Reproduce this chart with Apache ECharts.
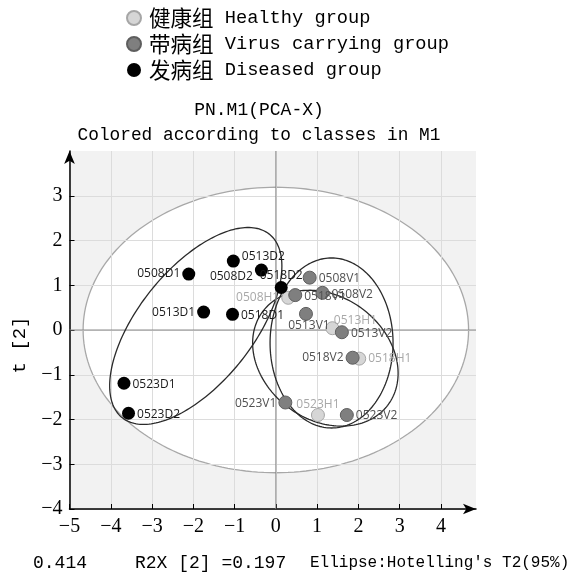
<!DOCTYPE html>
<html><head><meta charset="utf-8">
<script src="https://cdn.jsdelivr.net/npm/echarts@6/dist/echarts.min.js"></script>
<style>html,body{margin:0;padding:0;background:#fff}#c{width:573px;height:578px}</style>
</head><body><div id="c"></div>
<script>
const healthyNames = ['0508H1','0513H1','0518H1','0523H1'];
const healthyX = [0.30, 1.37, 2.02, 1.02];
const healthyY = [0.72, 0.04, -0.64, -1.90];
const virusNames = ['0508V1','0518V1','0508V2','0513V1','0513V2','0518V2','0523V1','0523V2'];
const virusX = [0.82, 0.47, 1.13, 0.73, 1.60, 1.86, 0.23, 1.72];
const virusY = [1.17, 0.78, 0.83, 0.36, -0.05, -0.62, -1.62, -1.90];
const diseasedNames = ['0508D1','0513D2','0508D2','0518D2','0513D1','0518D1','0523D1','0523D2'];
const diseasedX = [-2.11, -1.03, -0.35, 0.13, -1.75, -1.05, -3.68, -3.57];
const diseasedY = [1.25, 1.54, 1.34, 0.95, 0.40, 0.35, -1.19, -1.86];
const xTicks = [-5,-4,-3,-2,-1,0,1,2,3,4];
const yTicks = [-4,-3,-2,-1,0,1,2,3];
// ellipse outlines: [cx, cy, a, b, angleDeg]
const hotellingEllipse = [0, 0, 4.67, 3.19, 0];
const diseasedEllipse = [-1.94, 0.09, 2.72, 1.34, 47.5];
const virusEllipse = [1.35, -0.29, 1.49, 1.90, 0];
const healthyEllipse = [1.20, -0.63, 1.85, 1.41, -28];

const groupCJK = ['健康组','带病组','发病组'];
const groupEN = ['Healthy group','Virus carrying group','Diseased group'];
const seriesNames = groupCJK.map((c,i)=>c+' '+groupEN[i]);

const labelPlace = {
  '0508D1':['left',0,0], '0513D2':['right',0,-5], '0508D2':['left',0,7], '0518D2':['top',0,3],
  '0513D1':['left',0,0], '0518D1':['right',0,1], '0523D1':['right',0,1], '0523D2':['right',0,1],
  '0508V1':['right',0,1], '0518V1':['right',0,1], '0508V2':['right',0,2], '0513V1':['bottom',3,-3],
  '0513V2':['right',0,1], '0518V2':['left',0,0], '0523V1':['left',0,1], '0523V2':['right',0,1],
  '0508H1':['left',0,0], '0513H1':['top',23,7], '0518H1':['right',0,0], '0523H1':['top',0,5]
};

function ellipsePts(e){
  const pts=[]; const phi=e[4]*Math.PI/180;
  for(let i=0;i<=200;i++){
    const t=i/200*2*Math.PI;
    pts.push([e[0]+e[2]*Math.cos(t)*Math.cos(phi)-e[3]*Math.sin(t)*Math.sin(phi),
              e[1]+e[2]*Math.cos(t)*Math.sin(phi)+e[3]*Math.sin(t)*Math.cos(phi)]);
  }
  return pts;
}
function mk(names,xs,ys){
  return names.map((n,i)=>{
    const p=labelPlace[n]||['right',0,0];
    return {name:n, value:[xs[i],ys[i]], label:{position:p[0], offset:[p[1],p[2]]}};
  });
}
const minusFmt = v => (v<0 ? '\u2212'+Math.abs(v) : String(v));
const XMIN=-5, XMAX=4.85, YMIN=-4, YMAX=4;
const MONO = "'Liberation Mono','Noto Sans CJK SC',monospace";

const chart = echarts.init(document.getElementById('c'), null, {renderer:'canvas'});
const labelFont = {fontFamily:"'Open Sans','Noto Sans',sans-serif", fontSize:12, distance:2, show:true, formatter:'{b}'};
chart.setOption({
  animation:false,
  backgroundColor:'#fff',
  title:[
    {text:'PN.M1(PCA-X)', left:254, top:96, textAlign:'center',
     textStyle:{fontSize:18, fontWeight:'normal', color:'#000', fontFamily:MONO}},
    {text:'Colored according to classes in M1', left:254, top:121, textAlign:'center',
     textStyle:{fontSize:17.8, fontWeight:'normal', color:'#000', fontFamily:MONO}}
  ],
  legend:{
    orient:'vertical', left:121, top:2, itemWidth:20, itemHeight:14, itemGap:4,
    icon:'circle', data:seriesNames,
    formatter:name=>{const i=seriesNames.indexOf(name); return '{c|'+groupCJK[i]+'} {e|'+groupEN[i]+'}';},
    textStyle:{fontSize:18.7, lineHeight:22, color:'#000', fontFamily:MONO,
      rich:{c:{fontSize:21.5, lineHeight:22, fontFamily:"'Noto Sans CJK SC',sans-serif", color:'#000'},
            e:{fontSize:18.7, lineHeight:22, fontFamily:MONO, color:'#000'}}}
  },
  grid:{left:69.5, top:151, right:573-476, bottom:69, show:true, backgroundColor:'#f2f2f2', borderWidth:0, containLabel:false},
  xAxis:{
    type:'value', min:XMIN, max:XMAX, interval:1, z:2,
    axisLine:{show:true, onZero:false, symbol:['none','arrow'], symbolSize:[8,13], lineStyle:{color:'#000', width:1.5}},
    axisTick:{show:true, inside:true, length:5, lineStyle:{color:'#000'}, customValues:xTicks},
    axisLabel:{customValues:xTicks, formatter:minusFmt, margin:8, color:'#000', fontSize:20, fontFamily:"'Liberation Serif','Times New Roman',serif"},
    splitLine:{show:true, lineStyle:{color:'#dcdcdc', width:1}}
  },
  yAxis:{
    type:'value', min:YMIN, max:YMAX, interval:1, z:2,
    axisLine:{show:true, onZero:false, symbol:['none','arrow'], symbolSize:[8,13], lineStyle:{color:'#000', width:1.5}},
    axisTick:{show:true, inside:true, length:5, lineStyle:{color:'#000'}, customValues:yTicks},
    axisLabel:{customValues:yTicks, formatter:minusFmt, margin:7, color:'#000', fontSize:20, fontFamily:"'Liberation Serif','Times New Roman',serif"},
    splitLine:{show:true, lineStyle:{color:'#dcdcdc', width:1}}
  },
  graphic:[
    {type:'text', x:20, y:345, rotation:Math.PI/2, z:10,
     style:{text:'t [2]', fontSize:19, fontFamily:MONO, fill:'#000', align:'center', verticalAlign:'middle'}},
    {type:'text', x:33, y:563, z:10,
     style:{text:'0.414', fontSize:18, fontFamily:MONO, fill:'#000', align:'left', verticalAlign:'middle'}},
    {type:'text', x:135, y:563, z:10,
     style:{text:'R2X [2] =0.197', fontSize:18, fontFamily:MONO, fill:'#000', align:'left', verticalAlign:'middle'}},
    {type:'text', x:310, y:563, z:10,
     style:{text:"Ellipse:Hotelling's T2(95%)", fontSize:16, fontFamily:MONO, fill:'#000', align:'left', verticalAlign:'middle'}}
  ],
  series:[
    {type:'custom', z:1, silent:true, data:[[0,0]], clip:true,
     renderItem:(params, api)=>({type:'polygon', shape:{points:ellipsePts(hotellingEllipse).map(p=>api.coord(p))},
       style:{fill:'#ffffff', stroke:'#a8a8a8', lineWidth:1.3}})},
    {type:'custom', z:3, silent:true, data:[[0,0]], clip:true,
     renderItem:(params, api)=>{
       const zl=(a,b)=>({type:'line', shape:{x1:api.coord(a)[0], y1:api.coord(a)[1], x2:api.coord(b)[0], y2:api.coord(b)[1]}, style:{stroke:'#8a8a8a', lineWidth:1}});
       const el=e=>({type:'polygon', shape:{points:ellipsePts(e).map(p=>api.coord(p))}, style:{fill:null, stroke:'#2a2a2a', lineWidth:1.3}});
       return {type:'group', children:[zl([XMIN,0],[XMAX,0]), zl([0,YMIN],[0,YMAX]), el(diseasedEllipse), el(virusEllipse), el(healthyEllipse)]};
     }},
    {name:seriesNames[0], type:'scatter', z:4, symbolSize:13, data:mk(healthyNames,healthyX,healthyY),
     itemStyle:{color:'#d6d6d6', borderColor:'#a6a6a6', borderWidth:1, opacity:1},
     label:Object.assign({}, labelFont, {color:'#a8a8a8'})},
    {name:seriesNames[1], type:'scatter', z:4, symbolSize:13, data:mk(virusNames,virusX,virusY),
     itemStyle:{color:'#7f7f7f', borderColor:'#5e5e5e', borderWidth:1, opacity:1},
     label:Object.assign({}, labelFont, {color:'#505050'})},
    {name:seriesNames[2], type:'scatter', z:4, symbolSize:13, data:mk(diseasedNames,diseasedX,diseasedY),
     itemStyle:{color:'#000000', opacity:1},
     label:Object.assign({}, labelFont, {color:'#1a1a1a'})}
  ]
});
</script></body></html>
